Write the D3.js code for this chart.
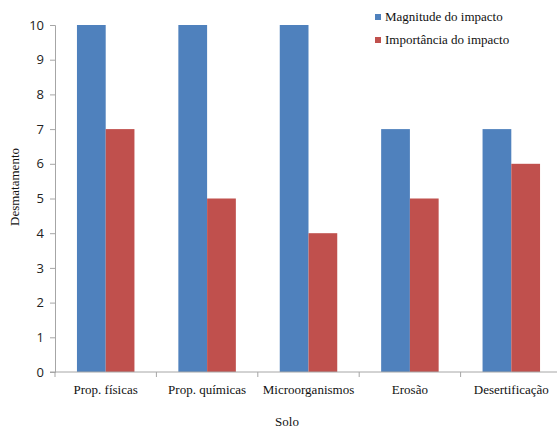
<!DOCTYPE html>
<html>
<head>
<meta charset="utf-8">
<script src="https://cdn.jsdelivr.net/npm/d3@7"></script>
<style>
  html, body { margin: 0; padding: 0; background: #fff; }
  svg { display: block; }
  .serif { font-family: "Times New Roman", "Liberation Serif", Times, serif; font-size: 13px; fill: #111; }
</style>
</head>
<body>
<svg id="chart" width="557" height="429"></svg>
<script>
const categories = ["Prop. físicas", "Prop. químicas", "Microorganismos", "Erosão", "Desertificação"];
const seriesNames = ["Magnitude do impacto", "Importância do impacto"];
const magnitude = [10, 10, 10, 7, 7];
const importancia = [7, 5, 4, 5, 6];
const yTicks = [0, 1, 2, 3, 4, 5, 6, 7, 8, 9, 10];
const colors = ["#4F81BD", "#C0504D"];

const svg = d3.select("#chart");
const margin = { left: 55, top: 25, right: -5, bottom: 57 };
const width = 557 - margin.left - margin.right;
const height = 429 - margin.top - margin.bottom;
const axisColor = "#a6a6a6";

const g = svg.append("g").attr("transform", `translate(${margin.left},${margin.top})`);

const x0 = d3.scaleBand().domain(categories).range([0, width]).paddingInner(0.433).paddingOuter(0.2165);
const x1 = d3.scaleBand().domain(seriesNames).range([0, x0.bandwidth()]);
const y = d3.scaleLinear().domain([0, 10]).range([height, 0]);

const rows = categories.map((c, i) => ({ cat: c, vals: [magnitude[i], importancia[i]] }));

// bars
const groups = g.selectAll("g.grp").data(rows).join("g")
  .attr("class", "grp")
  .attr("transform", d => `translate(${x0(d.cat)},0)`);
groups.selectAll("rect").data(d => d.vals.map((v, k) => ({ k, v }))).join("rect")
  .attr("x", d => x1(seriesNames[d.k]))
  .attr("width", x1.bandwidth())
  .attr("y", d => y(d.v))
  .attr("height", d => y(0) - y(d.v))
  .attr("fill", d => colors[d.k]);

// y axis
const yAxis = g.append("g")
  .call(d3.axisLeft(y).tickValues(yTicks).tickSize(5).tickPadding(6).tickFormat(d3.format("d")));
yAxis.selectAll("path, line").attr("stroke", axisColor);
yAxis.selectAll("text").attr("fill", "#222").style("font-family", "'Open Sans', sans-serif").style("font-size", "13px");

// x axis with ticks at the category boundaries
const xAxisG = g.append("g").attr("transform", `translate(0,${height})`);
xAxisG.append("line").attr("x1", -5).attr("x2", width).attr("stroke", axisColor);
const bounds = d3.range(categories.length + 1).map(i => i * width / categories.length);
xAxisG.selectAll("line.tk").data(bounds).join("line")
  .attr("class", "tk")
  .attr("x1", d => d).attr("x2", d => d)
  .attr("y1", 0).attr("y2", 5)
  .attr("stroke", axisColor);
xAxisG.selectAll("text").data(categories).join("text")
  .attr("class", "serif")
  .attr("x", d => x0(d) + x0.bandwidth() / 2)
  .attr("y", 22)
  .attr("text-anchor", "middle")
  .text(d => d);

// axis titles
svg.append("text")
  .attr("class", "serif")
  .attr("x", 287).attr("y", 426)
  .attr("text-anchor", "middle")
  .text("Solo");
svg.append("text")
  .attr("class", "serif")
  .attr("transform", "translate(19,187) rotate(-90)")
  .attr("text-anchor", "middle")
  .text("Desmatamento");

// legend
const legend = svg.append("g").attr("transform", "translate(375,14)");
const li = legend.selectAll("g").data(seriesNames).join("g")
  .attr("transform", (d, i) => `translate(0,${i * 23})`);
li.append("rect").attr("width", 6).attr("height", 6).attr("fill", (d, i) => colors[i]);
li.append("text")
  .attr("class", "serif")
  .attr("x", 10).attr("y", 7)
  .text(d => d);
</script>
</body>
</html>
